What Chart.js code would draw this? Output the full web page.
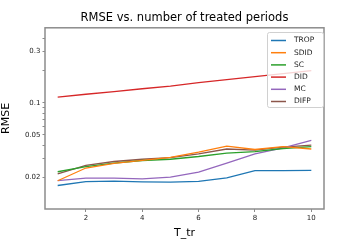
<!DOCTYPE html>
<html>
<head>
<meta charset="utf-8">
<script src="https://cdn.jsdelivr.net/npm/chart.js@4/dist/chart.umd.min.js"></script>
<style>
  html, body { margin: 0; padding: 0; background: #fff; }
  #wrap { width: 360px; height: 240px; }
</style>
</head>
<body>
<div id="wrap"><canvas id="chart"></canvas></div>
<script>
// values
const periods = [1, 2, 3, 4, 5, 6, 7, 8, 9, 10];
const trop = [0.0169, 0.0184, 0.0186, 0.0183, 0.0182, 0.0185, 0.0199, 0.0233, 0.0233, 0.0234];
const sdid = [0.0187, 0.0246, 0.0272, 0.0290, 0.0309, 0.0346, 0.0394, 0.0366, 0.0390, 0.0370];
const sc = [0.0227, 0.0254, 0.0273, 0.0289, 0.0297, 0.0315, 0.0339, 0.0350, 0.0374, 0.0390];
const did = [0.113, 0.120, 0.127, 0.135, 0.143, 0.154, 0.164, 0.175, 0.187, 0.199];
const mc = [0.0188, 0.0198, 0.0198, 0.0195, 0.0202, 0.0225, 0.0273, 0.0334, 0.0380, 0.0445];
const difp = [0.0217, 0.0260, 0.0283, 0.0297, 0.0308, 0.0334, 0.0370, 0.0361, 0.0386, 0.0402];

const seriesNames = ["TROP", "SDID", "SC", "DID", "MC", "DIFP"];
const seriesValues = [trop, sdid, sc, did, mc, difp];
const colors = ["#1f77b4", "#ff7f0e", "#2ca02c", "#d62728", "#9467bd", "#8c564b"];

const xTicks = [2, 4, 6, 8, 10];
const yTicks = [0.02, 0.03, 0.04, 0.05, 0.06, 0.07, 0.08, 0.09, 0.1, 0.2, 0.3, 0.4];
const yLabels = [0.02, 0.05, 0.1, 0.3];

const FONT = "'DejaVu Sans', sans-serif";
const AXIS_GRAY = "#8c8c8c";

// box around the plot + legend inside, matplotlib style
const framePlugin = {
    id: "frame",
    afterDatasetsDraw(chart) {
        const { ctx, chartArea: a } = chart;
        ctx.save();
        ctx.strokeStyle = AXIS_GRAY;
        ctx.lineWidth = 1.5;
        ctx.strokeRect(a.left, a.top, a.right - a.left, a.bottom - a.top);

        // legend
        const bx = 267, by = 32, bw = 56, bh = 75;
        ctx.fillStyle = "rgba(255,255,255,0.8)";
        ctx.strokeStyle = "#d0d0d0";
        ctx.lineWidth = 1;
        ctx.beginPath();
        ctx.roundRect(bx + 0.5, by + 0.5, bw, bh, 2);
        ctx.fill();
        ctx.stroke();
        ctx.font = "7.5px " + FONT;
        ctx.textBaseline = "middle";
        chart.data.datasets.forEach((ds, i) => {
            const y = by + 8.5 + i * 12.2;
            ctx.strokeStyle = ds.borderColor;
            ctx.lineWidth = 1.5;
            ctx.beginPath();
            ctx.moveTo(bx + 4, y);
            ctx.lineTo(bx + 19, y);
            ctx.stroke();
            ctx.fillStyle = "#222";
            ctx.fillText(ds.label, bx + 27, y);
        });
        ctx.restore();
    }
};

const datasets = seriesNames.map((name, i) => ({
    label: name,
    data: periods.map((p, j) => ({ x: p, y: seriesValues[i][j] })),
    borderColor: colors[i],
    backgroundColor: colors[i],
    borderWidth: 1.3,
    pointRadius: 0,
    tension: 0
}));

const ctx = document.getElementById("chart").getContext("2d");
new Chart(ctx, {
    type: "line",
    data: { datasets },
    options: {
        responsive: true,
        maintainAspectRatio: false,
        animation: false,
        layout: { padding: { left: 0, right: 36, top: 0, bottom: 0 } },
        plugins: {
            legend: { display: false },
            tooltip: { enabled: false },
            title: {
                display: true,
                fullSize: false,
                text: "RMSE vs. number of treated periods",
                color: "#000",
                font: { family: FONT, size: 11.5, weight: "normal" },
                padding: { top: 11, bottom: 3 }
            }
        },
        scales: {
            x: {
                type: "linear",
                min: 0.55,
                max: 10.45,
                afterBuildTicks: (s) => { s.ticks = xTicks.map(v => ({ value: v })); },
                afterFit: (s) => { s.height = 31; },
                border: { display: false },
                grid: { drawOnChartArea: false, drawTicks: true, tickLength: 3, color: AXIS_GRAY },
                ticks: { color: "#222", font: { family: FONT, size: 7 }, padding: 2, maxRotation: 0 },
                title: {
                    display: true,
                    text: "T_tr",
                    color: "#000",
                    font: { family: FONT, size: 11 },
                    padding: { top: 0, bottom: 0 }
                }
            },
            y: {
                type: "logarithmic",
                min: 0.0102,
                max: 0.5,
                afterBuildTicks: (s) => { s.ticks = yTicks.map(v => ({ value: v })); },
                afterFit: (s) => { s.width = 45; },
                border: { display: false },
                grid: { drawOnChartArea: false, drawTicks: true, tickLength: 2.5, color: AXIS_GRAY },
                ticks: {
                    color: "#222",
                    font: { family: FONT, size: 7 },
                    padding: 2,
                    autoSkip: false,
                    callback: (v) => yLabels.includes(v) ? String(v) : ""
                },
                title: {
                    display: true,
                    text: "RMSE",
                    color: "#000",
                    font: { family: FONT, size: 11 },
                    padding: { top: 0, bottom: 2 }
                }
            }
        }
    },
    plugins: [framePlugin]
});
</script>
</body>
</html>
